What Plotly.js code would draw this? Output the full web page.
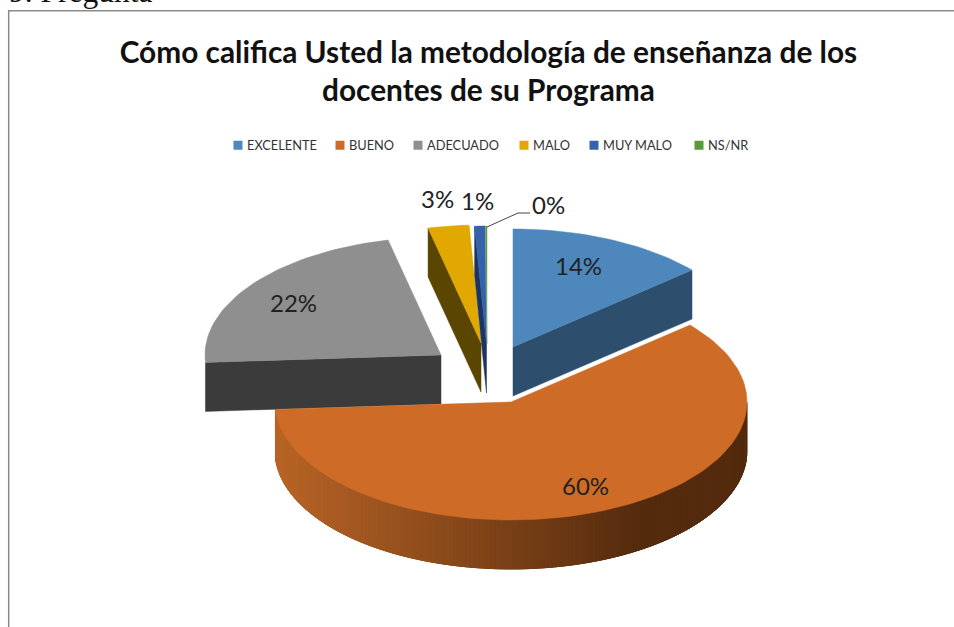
<!DOCTYPE html>
<html><head><meta charset="utf-8">
<script src="https://cdn.plot.ly/plotly-3.0.1.min.js"></script>
<style>html,body{margin:0;padding:0;background:#fff;overflow:hidden}</style>
</head><body><div id="chart" style="width:954px;height:627px"></div>
<script>
const categories = ["EXCELENTE","BUENO","ADECUADO","MALO","MUY MALO","NS/NR"];
const values = [13.7, 60.3, 22.4, 2.8, 0.7, 0.1];
const topColors = ["#4e87bc","#ce6c27","#8f8f8f","#e0a800","#3462ad","#5a9a3a"];
const sideColors = ["#2d4f6d",null,"#3b3b3b","#5a4600","#1c3560","#2f5220"];
const titleText = "Cómo califica Usted la metodología de enseñanza de los<br>docentes de su Programa";

// exploded-slice centres on the 954x627 pixel-scaled axes
const centers = [[513,347],[511,402],[441,355],[481,343],[486.5,344],[487,344]];
const RX = 236, RY = 118, DEPTH = 49;
const labelPos = [[578,265],[585,485],[293,302],[437,198],[477,200],[548,204]];
const legendTextX = [247,349,427,533,603,708];

const total = values.reduce((a,b)=>a+b,0);
const edges = [0];
values.forEach(v=>edges.push(edges[edges.length-1]+v/total*360));
const rim = (c,t,dz=0)=>{const r=t*Math.PI/180;return [c[0]+RX*Math.sin(r),c[1]-RY*Math.cos(r)+dz];};
function poly(pts,color,w){
  const p=pts.concat([pts[0]]);
  return {type:"scatter",mode:"lines",x:p.map(q=>q[0]),y:p.map(q=>q[1]),fill:"toself",fillcolor:color,
    line:{color:color,width:w||0.5},showlegend:false,hoverinfo:"skip"};
}
function arc(c,a,b,dz=0){const n=Math.max(2,Math.ceil(Math.abs(b-a)/2)),o=[];
  for(let i=0;i<=n;i++)o.push(rim(c,a+(b-a)*i/n,dz));return o;}
function sideGrad(x){ // lighter at the left of the rim, dark at the right
  const L=[0xb9,0x65,0x27],R=[0x55,0x2b,0x0e];
  const f=Math.min(1,Math.max(0,(x-275)/(640-275)));
  return "rgb("+L.map((v,i)=>Math.round(v+(R[i]-v)*f)).join(",")+")";
}
const traces=[];
function sliceTop(i){traces.push(poly([centers[i]].concat(arc(centers[i],edges[i],edges[i+1])),topColors[i]));}
function radialFace(i,t){
  const c=centers[i],r=rim(c,t);
  traces.push(poly([c,r,[r[0],r[1]+DEPTH],[c[0],c[1]+DEPTH]],sideColors[i]));
}
// back to front: gray, yellow, navy, green, blue, orange
radialFace(2,edges[2]); sliceTop(2);
radialFace(3,edges[3]); sliceTop(3);
radialFace(4,edges[4]); sliceTop(4);
traces.push(poly([centers[5]].concat(arc(centers[5],edges[5],edges[6])),topColors[5],0.4));
radialFace(0,edges[1]); sliceTop(0);
// orange rim: overlapping bands painted right to left, so no seam shows between them
for(let t=90;t<edges[2];t+=1){
  const b=Math.min(t+5,edges[2]),c=centers[1];
  const up=arc(c,t,b),dn=arc(c,b,t,DEPTH);
  traces.push(poly(up.concat(dn),sideGrad(rim(c,t+0.5)[0])));
}
sliceTop(1);
// leader line of the 0% label
traces.push({type:"scatter",mode:"lines",x:[487,518,530],y:[227,213,213],line:{color:"#444",width:1},showlegend:false,hoverinfo:"skip"});
// legend entries
categories.forEach((n,i)=>traces.push({type:"scatter",mode:"markers",name:n,x:[null],y:[null],
  marker:{symbol:"square",size:9,color:topColors[i]},hoverinfo:"skip"}));

const annotations=values.map((v,i)=>({x:labelPos[i][0],y:labelPos[i][1],xref:"x",yref:"y",showarrow:false,
  text:Math.round(v)+"%",font:{family:"Lato, sans-serif",size:24,color:"#222"}}));
annotations.push({x:8,y:0,xref:"x",yref:"y",xanchor:"left",yanchor:"bottom",yshift:-10,showarrow:false,
  text:"9. Pregunta",font:{family:"Liberation Serif, serif",size:31.5,color:"#111"},borderpad:0});

const layout={width:954,height:627,margin:{l:0,r:0,t:0,b:0},paper_bgcolor:"#fff",plot_bgcolor:"#fff",
  xaxis:{range:[0,954],visible:false,fixedrange:true},
  yaxis:{range:[627,0],visible:false,fixedrange:true},
  title:{text:titleText,x:0.512,xanchor:"center",y:0.9,yanchor:"middle",font:{family:"Lato, sans-serif",size:29.8,color:"#111",weight:700}},
  legend:{orientation:"h",x:0.2,xanchor:"left",y:0.768,yanchor:"middle",font:{family:"Lato, sans-serif",size:12.8,color:"#333"},bgcolor:"rgba(0,0,0,0)"},
  shapes:[
    {type:"line",xref:"x",yref:"y",x0:8,x1:954,y0:10.8,y1:10.8,line:{color:"#8a8a8a",width:1.5}},
    {type:"line",xref:"x",yref:"y",x0:8.7,x1:8.7,y0:11,y1:627,line:{color:"#8a8a8a",width:1.5}}
  ],
  annotations:annotations,showlegend:true};
Plotly.newPlot("chart",traces,layout,{displayModeBar:false,staticPlot:true}).then(gd=>{
  const legend=gd.querySelector(".legend");
  const m=/translate\(([-\d.]+)[ ,]*([-\d.]*)\)/.exec(legend.getAttribute("transform"));
  const ox=m?parseFloat(m[1]):0;
  legend.querySelectorAll(".traces").forEach((g,i)=>{
    const t=/translate\(([-\d.]+)[ ,]*([-\d.]*)\)/.exec(g.getAttribute("transform"));
    g.setAttribute("transform","translate("+(legendTextX[i]-40-ox)+","+(t?t[2]||0:0)+")");
    g.querySelector(".legendpoints").setAttribute("transform","translate(11,0)");
  });
});
</script></body></html>
